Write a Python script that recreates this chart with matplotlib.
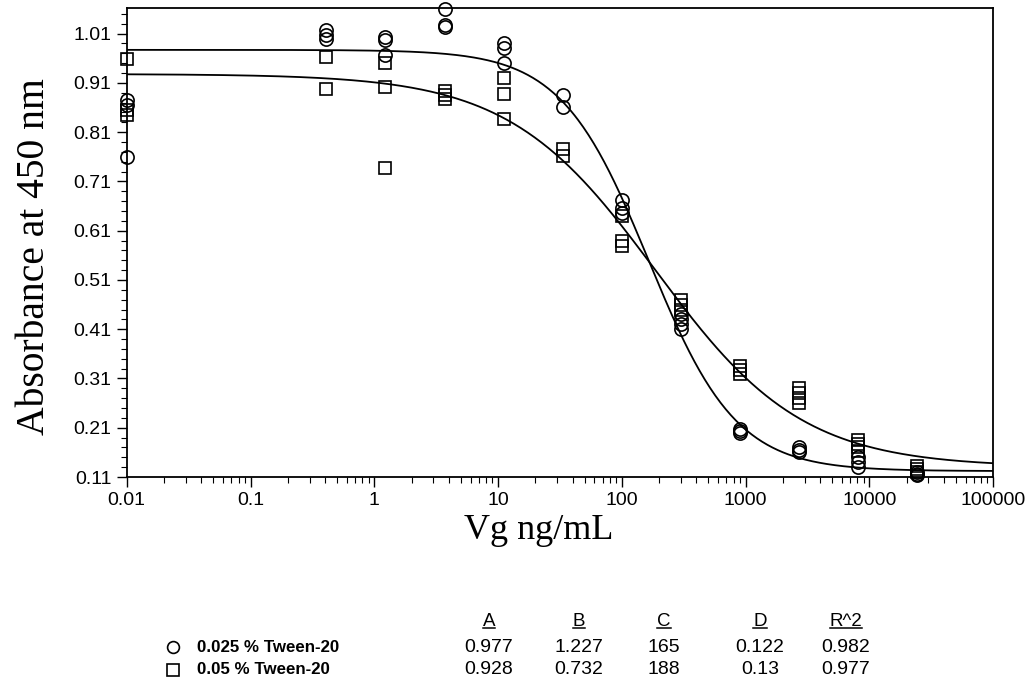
import numpy as np
import matplotlib
matplotlib.use('Agg')
import matplotlib.pyplot as plt
from matplotlib.lines import Line2D
from matplotlib.ticker import AutoMinorLocator, LogLocator, NullFormatter

# concentracoes (ng/mL) - diluicoes seriadas, 0.01 = branco
conc = [0.01, 0.41, 1.23, 3.7, 11.1, 33.3, 100, 300, 900, 2700, 8100, 24300]

# replicatas, uma lista por concentracao
abs_025 = [[0.76, 0.865, 0.875], [1.018, 1.008, 1.0], [1.004, 0.997, 0.966],
           [1.06, 1.027, 1.024], [0.99, 0.98, 0.951], [0.886, 0.862],
           [0.672, 0.656, 0.645], [0.44, 0.43, 0.42, 0.41], [0.207, 0.203, 0.2],
           [0.17, 0.165, 0.16], [0.15, 0.14, 0.13], [0.12, 0.117, 0.114]]
abs_05 = [[0.958, 0.855, 0.845], [0.962, 0.897], [0.95, 0.901, 0.737],
          [0.893, 0.885, 0.878], [0.92, 0.887, 0.836], [0.775, 0.762],
          [0.64, 0.59, 0.578], [0.47, 0.46, 0.45], [0.335, 0.328, 0.32],
          [0.29, 0.28, 0.27, 0.26], [0.185, 0.178, 0.17, 0.163], [0.132, 0.126, 0.12]]

# parametros do ajuste logistico (tabela)
series_names = ['0.025 % Tween-20', '0.05 % Tween-20']
param_names = ['A', 'B', 'C', 'D', 'R^2']
params_025 = [0.977, 1.227, 165, 0.122, 0.982]
params_05 = [0.928, 0.732, 188, 0.13, 0.977]
params_txt = [['0.977', '1.227', '165', '0.122', '0.982'],
              ['0.928', '0.732', '188', '0.13', '0.977']]

y_ticks = [0.11, 0.21, 0.31, 0.41, 0.51, 0.61, 0.71, 0.81, 0.91, 1.01]
x_ticks = [0.01, 0.1, 1, 10, 100, 1000, 10000, 100000]
x_labels = ['0.01', '0.1', '1', '10', '100', '1000', '10000', '100000']


def four_pl(x, p):
    a, b, c, d = p[:4]
    return (a - d) / (1 + (x / c) ** b) + d


fig = plt.figure(figsize=(10.33, 6.83), dpi=100)
ax = fig.add_axes([0.1227, 0.3016, 0.8386, 0.6867])

xs = np.logspace(-2, 5, 500)
ax.plot(xs, four_pl(xs, params_025), color='black', lw=1.3)
ax.plot(xs, four_pl(xs, params_05), color='black', lw=1.3)

# pontos
for c, reps in zip(conc, abs_025):
    ax.plot([c] * len(reps), reps, 'o', mfc='none', mec='black', ms=9.5, mew=1.2, clip_on=False)
for c, reps in zip(conc, abs_05):
    ax.plot([c] * len(reps), reps, 's', mfc='none', mec='black', ms=9, mew=1.2, clip_on=False)

ax.set_xscale('log')
ax.set_xlim(0.01, 100000)
ax.set_ylim(0.11, 1.062)
ax.set_xticks(x_ticks)
ax.set_xticklabels(x_labels)
ax.xaxis.set_minor_locator(LogLocator(base=10, subs=np.arange(2, 10), numticks=20))
ax.xaxis.set_minor_formatter(NullFormatter())
ax.set_yticks(y_ticks)
ax.set_yticklabels([f'{v:.2f}' for v in y_ticks])
ax.yaxis.set_minor_locator(AutoMinorLocator(5))

ax.tick_params(which='major', direction='out', length=7, width=1, labelsize=14, pad=4)
ax.tick_params(which='minor', direction='out', length=4, width=0.8)
for lab in ax.get_xticklabels() + ax.get_yticklabels():
    lab.set_family(['Liberation Sans', 'DejaVu Sans'])
for s in ax.spines.values():
    s.set_linewidth(1.3)

ax.set_ylabel('Absorbance at 450 nm', fontsize=28.5, family=['Liberation Serif', 'DejaVu Serif'])
ax.yaxis.set_label_coords(-0.107, 0.47)
ax.yaxis.label.set_va('center')
ax.set_xlabel('Vg ng/mL', fontsize=26, family=['Liberation Serif', 'DejaVu Serif'])
ax.xaxis.set_label_coords(0.475, -0.115)
ax.xaxis.label.set_va('center')

# tabela dos parametros
W, H = 1033, 683
col_x = [489, 579, 664, 760, 846]
row_y = [647, 670]
head_y = 622
tab_font = ['Liberation Sans', 'DejaVu Sans']

heads = []
for cx, name in zip(col_x, param_names):
    heads.append(fig.text(cx / W, 1 - head_y / H, name, ha='center', va='center',
                          fontsize=13.5, family=tab_font))
markers = ['o', 's']
for i, name in enumerate(series_names):
    yy = 1 - row_y[i] / H
    fig.add_artist(Line2D([173 / W], [yy], marker=markers[i], mfc='none', mec='black',
                          ms=8.5, mew=1.2, ls='none'))
    fig.text(197 / W, yy, name, ha='left', va='center', fontsize=12.2,
             fontweight='bold', family=tab_font)
    for cx, val in zip(col_x, params_txt[i]):
        fig.text(cx / W, yy, val, ha='center', va='center', fontsize=14, family=tab_font)

# sublinhado dos cabecalhos
fig.canvas.draw()
r = fig.canvas.get_renderer()
for t in heads:
    bb = t.get_window_extent(r).transformed(fig.transFigure.inverted())
    yl = bb.y0 + 2.5 / H
    fig.add_artist(Line2D([bb.x0, bb.x1], [yl, yl], color='black', lw=1.1))

fig.savefig('out.png', dpi=100)
